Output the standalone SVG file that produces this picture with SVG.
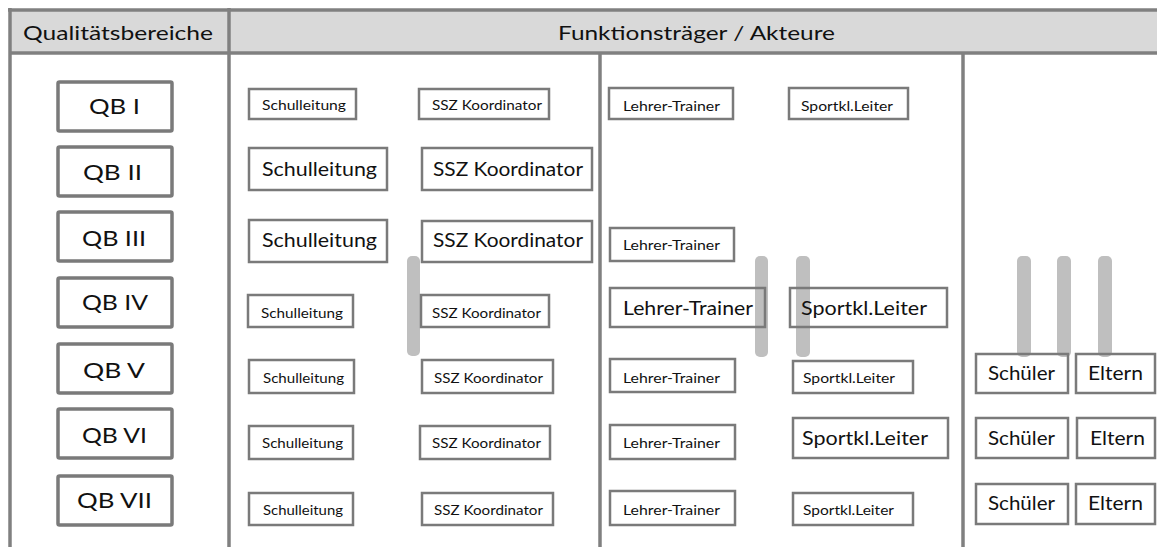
<svg xmlns="http://www.w3.org/2000/svg" width="1157" height="547" viewBox="0 0 1157 547">
<style>
text{font-family:Lato,"Open Sans","Liberation Sans",sans-serif;fill:#111;}
.hdr{font-size:20px;}
.qb rect{fill:none;stroke:#7a7a7a;stroke-width:3.5;}
.qb text{font-size:22px;}
.n rect{fill:none;stroke:#7a7a7a;stroke-width:2.5;}
.s{font-size:14px;}
.l{font-size:19px;}
.p{font-size:20px;}
.bar{fill:#bfbfbf;}
.grid{stroke:#808080;stroke-width:3.5;fill:none;}
</style>
<rect width="1157" height="547" fill="#ffffff"/>
<g id="frame">
<rect x="10" y="10" width="1150" height="43" fill="#d9d9d9"/>
<line class="grid" x1="8" y1="10" x2="1157" y2="10"/>
<line class="grid" x1="10" y1="53" x2="1157" y2="53"/>
<line class="grid" x1="10" y1="8" x2="10" y2="547"/>
<line class="grid" x1="229" y1="8" x2="229" y2="547"/>
<line class="grid" x1="600" y1="53" x2="600" y2="547"/>
<line class="grid" x1="963" y1="53" x2="963" y2="547"/>
<text class="hdr" x="23" y="40" textLength="190" lengthAdjust="spacingAndGlyphs">Qualitätsbereiche</text>
<text class="hdr" x="558" y="40" textLength="277" lengthAdjust="spacingAndGlyphs">Funktionsträger / Akteure</text>
</g>
<g id="bars">
<rect class="bar" x="407" y="256" width="13" height="100" rx="5"/>
<rect class="bar" x="755" y="256" width="13" height="101" rx="5"/>
<rect class="bar" x="796" y="256" width="14" height="101" rx="5"/>
<rect class="bar" x="1017" y="256" width="14" height="101" rx="5"/>
<rect class="bar" x="1057" y="256" width="14" height="101" rx="5"/>
<rect class="bar" x="1098" y="256" width="14" height="101" rx="5"/>
</g>
<g id="qb1" class="qb"><rect x="58" y="82" width="114" height="49" rx="1.5"/><text x="89" y="114" textLength="51" lengthAdjust="spacingAndGlyphs">QB I</text></g>
<g id="qb2" class="qb"><rect x="58" y="147" width="114" height="49" rx="1.5"/><text x="83" y="180" textLength="59" lengthAdjust="spacingAndGlyphs">QB II</text></g>
<g id="qb3" class="qb"><rect x="58" y="212" width="114" height="49" rx="1.5"/><text x="82" y="246" textLength="64" lengthAdjust="spacingAndGlyphs">QB III</text></g>
<g id="qb4" class="qb"><rect x="58" y="278" width="114" height="49" rx="1.5"/><text x="82" y="310" textLength="66" lengthAdjust="spacingAndGlyphs">QB IV</text></g>
<g id="qb5" class="qb"><rect x="58" y="344" width="114" height="49" rx="1.5"/><text x="83" y="378" textLength="62" lengthAdjust="spacingAndGlyphs">QB V</text></g>
<g id="qb6" class="qb"><rect x="58" y="409" width="114" height="49" rx="1.5"/><text x="82" y="443" textLength="65" lengthAdjust="spacingAndGlyphs">QB VI</text></g>
<g id="qb7" class="qb"><rect x="58" y="476" width="114" height="49" rx="1.5"/><text x="77" y="508" textLength="75" lengthAdjust="spacingAndGlyphs">QB VII</text></g>

<g id="r1-schulleitung" class="n"><rect x="249" y="89" width="107" height="30"/><text class="s" x="262" y="110" textLength="84" lengthAdjust="spacingAndGlyphs">Schulleitung</text></g>
<g id="r1-ssz" class="n"><rect x="419" y="89" width="130" height="30"/><text class="s" x="432" y="110" textLength="110" lengthAdjust="spacingAndGlyphs">SSZ Koordinator</text></g>
<g id="r1-lehrer" class="n"><rect x="609" y="88" width="124" height="31"/><text class="s" x="623" y="111" textLength="97" lengthAdjust="spacingAndGlyphs">Lehrer-Trainer</text></g>
<g id="r1-sport" class="n"><rect x="789" y="88" width="119" height="31"/><text class="s" x="801" y="111" textLength="92" lengthAdjust="spacingAndGlyphs">Sportkl.Leiter</text></g>

<g id="r2-schulleitung" class="n"><rect x="249" y="148" width="138" height="42"/><text class="l" x="262" y="176" textLength="115" lengthAdjust="spacingAndGlyphs">Schulleitung</text></g>
<g id="r2-ssz" class="n"><rect x="422" y="148" width="170" height="42"/><text class="l" x="433" y="176" textLength="150" lengthAdjust="spacingAndGlyphs">SSZ Koordinator</text></g>

<g id="r3-schulleitung" class="n"><rect x="249" y="220" width="138" height="42"/><text class="l" x="262" y="247" textLength="115" lengthAdjust="spacingAndGlyphs">Schulleitung</text></g>
<g id="r3-ssz" class="n"><rect x="422" y="221" width="170" height="41"/><text class="l" x="433" y="247" textLength="150" lengthAdjust="spacingAndGlyphs">SSZ Koordinator</text></g>
<g id="r3-lehrer" class="n"><rect x="610" y="228" width="124" height="33"/><text class="s" x="623" y="250" textLength="97" lengthAdjust="spacingAndGlyphs">Lehrer-Trainer</text></g>

<g id="r4-schulleitung" class="n"><rect x="248" y="295" width="105" height="32"/><text class="s" x="261" y="318" textLength="82" lengthAdjust="spacingAndGlyphs">Schulleitung</text></g>
<g id="r4-ssz" class="n"><rect x="421" y="295" width="128" height="32"/><text class="s" x="432" y="318" textLength="109" lengthAdjust="spacingAndGlyphs">SSZ Koordinator</text></g>
<g id="r4-lehrer" class="n"><rect x="610" y="288" width="155" height="39"/><text class="l" x="623" y="315" textLength="130" lengthAdjust="spacingAndGlyphs">Lehrer-Trainer</text></g>
<g id="r4-sport" class="n"><rect x="790" y="288" width="157" height="39"/><text class="l" x="801" y="315" textLength="126" lengthAdjust="spacingAndGlyphs">Sportkl.Leiter</text></g>

<g id="r5-schulleitung" class="n"><rect x="249" y="360" width="105" height="33"/><text class="s" x="263" y="383" textLength="81" lengthAdjust="spacingAndGlyphs">Schulleitung</text></g>
<g id="r5-ssz" class="n"><rect x="422" y="360" width="131" height="33"/><text class="s" x="434" y="383" textLength="109" lengthAdjust="spacingAndGlyphs">SSZ Koordinator</text></g>
<g id="r5-lehrer" class="n"><rect x="610" y="359" width="125" height="33"/><text class="s" x="623" y="383" textLength="97" lengthAdjust="spacingAndGlyphs">Lehrer-Trainer</text></g>
<g id="r5-sport" class="n"><rect x="793" y="361" width="120" height="32"/><text class="s" x="803" y="383" textLength="92" lengthAdjust="spacingAndGlyphs">Sportkl.Leiter</text></g>
<g id="r5-schueler" class="n"><rect x="976" y="354" width="92" height="39"/><text class="p" x="988" y="380" textLength="67" lengthAdjust="spacingAndGlyphs">Schüler</text></g>
<g id="r5-eltern" class="n"><rect x="1076" y="354" width="79" height="39"/><text class="p" x="1088" y="380" textLength="55" lengthAdjust="spacingAndGlyphs">Eltern</text></g>

<g id="r6-schulleitung" class="n"><rect x="249" y="426" width="104" height="33"/><text class="s" x="262" y="448" textLength="81" lengthAdjust="spacingAndGlyphs">Schulleitung</text></g>
<g id="r6-ssz" class="n"><rect x="420" y="426" width="130" height="33"/><text class="s" x="432" y="448" textLength="109" lengthAdjust="spacingAndGlyphs">SSZ Koordinator</text></g>
<g id="r6-lehrer" class="n"><rect x="610" y="425" width="125" height="34"/><text class="s" x="623" y="448" textLength="97" lengthAdjust="spacingAndGlyphs">Lehrer-Trainer</text></g>
<g id="r6-sport" class="n"><rect x="793" y="418" width="155" height="40"/><text class="l" x="802" y="445" textLength="126" lengthAdjust="spacingAndGlyphs">Sportkl.Leiter</text></g>
<g id="r6-schueler" class="n"><rect x="976" y="418" width="92" height="40"/><text class="p" x="988" y="445" textLength="67" lengthAdjust="spacingAndGlyphs">Schüler</text></g>
<g id="r6-eltern" class="n"><rect x="1077" y="418" width="78" height="40"/><text class="p" x="1090" y="445" textLength="55" lengthAdjust="spacingAndGlyphs">Eltern</text></g>

<g id="r7-schulleitung" class="n"><rect x="249" y="493" width="104" height="32"/><text class="s" x="263" y="515" textLength="80" lengthAdjust="spacingAndGlyphs">Schulleitung</text></g>
<g id="r7-ssz" class="n"><rect x="422" y="493" width="131" height="32"/><text class="s" x="434" y="515" textLength="109" lengthAdjust="spacingAndGlyphs">SSZ Koordinator</text></g>
<g id="r7-lehrer" class="n"><rect x="610" y="491" width="125" height="34"/><text class="s" x="623" y="515" textLength="97" lengthAdjust="spacingAndGlyphs">Lehrer-Trainer</text></g>
<g id="r7-sport" class="n"><rect x="793" y="493" width="120" height="32"/><text class="s" x="803" y="515" textLength="91" lengthAdjust="spacingAndGlyphs">Sportkl.Leiter</text></g>
<g id="r7-schueler" class="n"><rect x="976" y="484" width="92" height="40"/><text class="p" x="988" y="510" textLength="67" lengthAdjust="spacingAndGlyphs">Schüler</text></g>
<g id="r7-eltern" class="n"><rect x="1076" y="484" width="79" height="40"/><text class="p" x="1088" y="510" textLength="55" lengthAdjust="spacingAndGlyphs">Eltern</text></g>
<g id="connectors"></g>
</svg>
